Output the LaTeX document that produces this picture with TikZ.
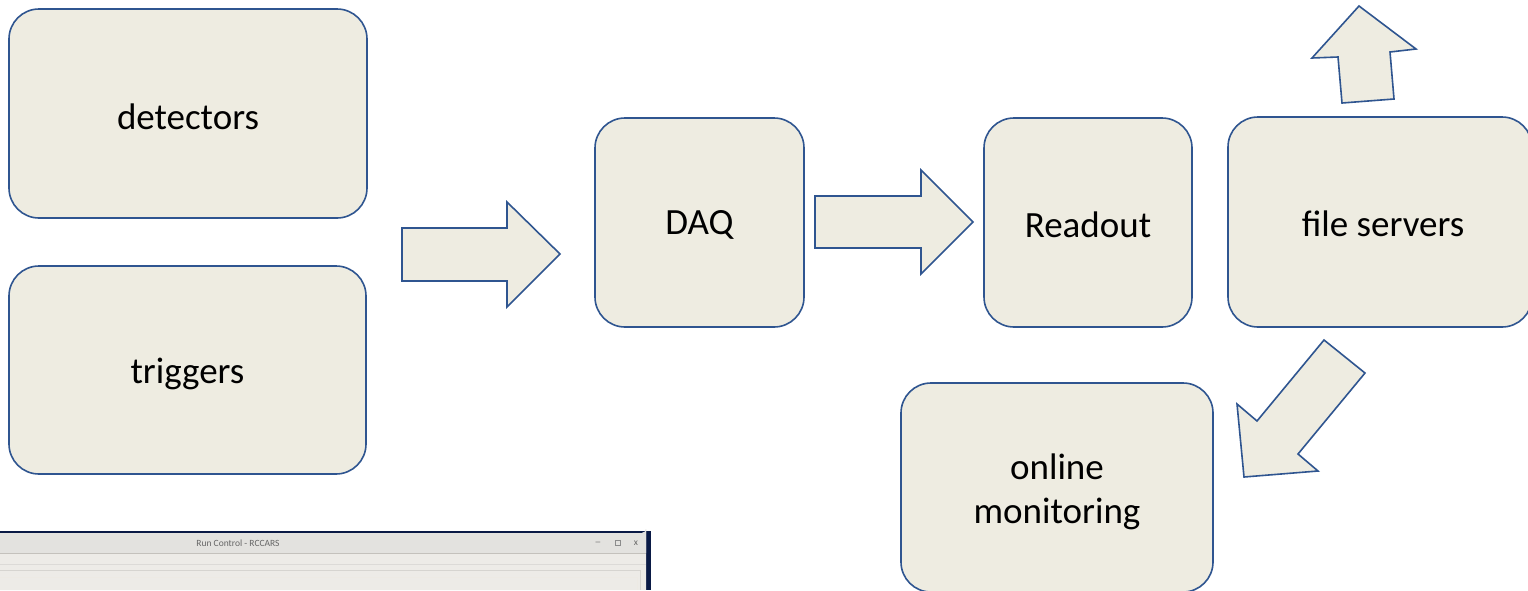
\documentclass[tikz,border=0pt]{standalone}
\usepackage{fontspec}
\setmainfont{Carlito}
\usetikzlibrary{calc}
\definecolor{boxfill}{HTML}{EEECE1}
\definecolor{boxline}{HTML}{2F5590}
\definecolor{navy}{HTML}{0A1A45}
\definecolor{winbg}{HTML}{EDEBE7}
\definecolor{titlebg}{HTML}{E3E2DF}
\definecolor{sepline}{HTML}{C4C1BC}
\begin{document}
\begin{tikzpicture}[x=1pt,y=-1pt,
  blk/.style={draw=boxline, fill=boxfill, line width=1.6pt, rounded corners=30pt, inner sep=0pt},
  lbl/.style={inner sep=0pt, align=center, font=\fontsize{37}{44}\selectfont},
  wintext/.style={inner sep=0pt, font=\fontsize{9.5}{10}\selectfont, text=black!60},
  blockarrow/.style={draw=boxline, fill=boxfill, line width=1.6pt, line join=miter}]
\useasboundingbox (0,0) rectangle (1528,590);
\clip (0,0) rectangle (1528,590);
\fill[white] (0,0) rectangle (1528,590);
% boxes
\node[blk, minimum width=358pt, minimum height=209pt] (det) at (188,113.5) {};
\node[blk, minimum width=357pt, minimum height=208pt] (trig) at (187.5,370) {};
\node[blk, minimum width=209pt, minimum height=209pt] (daq) at (699.5,222.5) {};
\node[blk, minimum width=208pt, minimum height=209pt] (rd) at (1088,222.5) {};
\node[blk, minimum width=304pt, minimum height=210pt] (fs) at (1380,222) {};
\node[blk, minimum width=312pt, minimum height=209pt] (om) at (1057,487.5) {};
% labels
\node[lbl] (detl) at ($(det.center)+(0,3)$) {detectors};
\node[lbl] (trigl) at ($(trig.center)+(0,4)$) {triggers};
\node[lbl] (daql) at ($(daq.center)+(0,2)$) {DAQ};
\node[lbl] (rdl) at ($(rd.center)+(0,2)$) {Readout};
\node[lbl] (fsl) at (1383,224) {file servers};
\node[lbl] (oml) at (1057,492) {online\\monitoring};
% block arrows
\draw[blockarrow] (402,228) -- (507,228) -- (507,202) -- (560,254) -- (507,307) -- (507,281) -- (402,281) -- cycle;
\draw[blockarrow] (815,196) -- (921,196) -- (921,170) -- (973,222) -- (921,274) -- (921,248) -- (815,248) -- cycle;
\draw[blockarrow] (1359,6) -- (1416,49) -- (1390,52) -- (1394,99) -- (1342,103) -- (1338,57) -- (1312,58) -- cycle;
\draw[blockarrow] (1324,340) -- (1365,373) -- (1298,454) -- (1318,471) -- (1244,477) -- (1237,404) -- (1257,421) -- cycle;
% screenshot of run control window
\fill[navy] (0,531) rectangle (651,590);
\fill[winbg] (0,533) -- (642,533) arc[start angle=90, end angle=0, radius=4] -- (646,590) -- (0,590) -- cycle;
\fill[titlebg] (0,533) -- (642,533) arc[start angle=90, end angle=0, radius=4] -- (646,553) -- (0,553) -- cycle;
\draw[sepline, line width=0.8pt] (0,553.5) -- (646,553.5);
\draw[sepline!60, line width=0.6pt] (0,564) -- (646,564);
\draw[sepline!70, line width=0.8pt] (0,570) -- (640,570) -- (640,590);
\draw[sepline!120!black!90, line width=0.8pt] (0,577) -- (637,577) -- (637,590);
\node[wintext] (title) at (238,543) {Run Control - RCCARS};
\node[wintext] (minb) at (598,542) {\_};
\node[draw=black!45, line width=0.6pt, minimum size=4.5pt, inner sep=0pt] (maxb) at (618,543) {};
\node[wintext] (closeb) at (636,543) {x};
\end{tikzpicture}
\end{document}
